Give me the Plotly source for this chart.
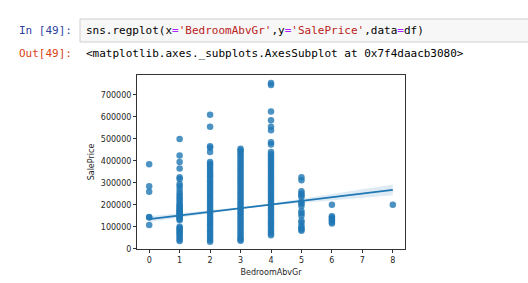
import plotly.graph_objects as go

# ---- data (SalePrice in thousands) ----
bed0 = [385, 285, 260, 145, 142, 108]
bed1 = [500, 425, 395, 365, 325, 318, 295, 285, 270, 255, 245, 235, 225, 215, 205, 198, 192,
        186, 180, 175, 170, 165, 160, 155, 150, 145, 140, 135, 130, 100, 95, 88, 82, 75,
        68, 60, 52, 42, 35]
bed2 = [610, 555, 467, 460, 440, 395, 387, 378, 368, 358, 348, 338,
        330, 320, 310, 300, 290, 280, 270, 260, 250, 240, 230, 220, 210, 200, 190, 180,
        170, 160, 150, 140, 130, 120, 110, 100, 90, 80, 70, 60, 50, 40, 32]
bed3 = [455, 447, 440, 430, 420, 410, 400, 390, 380, 370, 360, 350, 340, 330, 320, 310,
        300, 290, 280, 270, 260, 250, 240, 230, 220, 210, 200, 190, 180, 170, 160, 150,
        140, 130, 120, 110, 100, 90, 80, 70, 60, 50, 42, 36]
bed4 = [755, 745, 625, 585, 555, 540, 485, 475, 440, 430, 420, 410,
        400, 390, 380, 370, 360, 350, 340, 330, 320, 310, 300, 290, 280, 270, 260, 250,
        240, 230, 220, 210, 200, 190, 180, 170, 160, 150, 140, 130, 120, 110, 100, 90,
        80, 70, 62]
bed5 = [326, 312, 262, 252, 244, 236, 213, 205, 195, 172, 162, 150, 127, 118, 104, 95, 88, 82]
bed6 = [200, 148, 142, 136, 130, 122, 115]
bed8 = [200]

groups = {0: bed0, 1: bed1, 2: bed2, 3: bed3, 4: bed4, 5: bed5, 6: bed6, 8: bed8}

# regression line and confidence band
reg_x = [0, 8]
reg_y = [135000, 268000]
ci_x = [0, 1, 2, 3, 4, 5, 6, 7, 8]
ci_mid = [135000, 151600, 168250, 184900, 201500, 218100, 234750, 251400, 268000]
ci_half = [13000, 9000, 6000, 4000, 5000, 9000, 14000, 19000, 24000]

x_ticks = [0, 1, 2, 3, 4, 5, 6, 7, 8]
y_ticks = [0, 100000, 200000, 300000, 400000, 500000, 600000, 700000]

xs, ys = [], []
for k, vals in groups.items():
    for v in vals:
        xs.append(k)
        ys.append(v * 1000)

blue = "#1f77b4"
fig = go.Figure()
fig.add_trace(go.Scatter(x=xs, y=ys, mode="markers",
                         marker=dict(size=6.5, color="rgba(31,119,180,0.8)", line=dict(width=0)),
                         hoverinfo="skip"))
lo = [m - h for m, h in zip(ci_mid, ci_half)]
hi = [m + h for m, h in zip(ci_mid, ci_half)]
fig.add_trace(go.Scatter(x=ci_x + ci_x[::-1], y=hi + lo[::-1], fill="toself",
                         fillcolor="rgba(31,119,180,0.15)", line=dict(width=0),
                         mode="lines", hoverinfo="skip"))
fig.add_trace(go.Scatter(x=reg_x, y=reg_y, mode="lines", line=dict(color=blue, width=1.8),
                         hoverinfo="skip"))

L, R, T, B = 137, 405, 75, 249
W, H = 528, 283
pw, ph = R - L, B - T

def px(xp):
    return (xp - L) / pw

def py(yp):
    return (B - yp) / ph

mono = "DejaVu Sans Mono"
S = '<span style="color:#BA2121">'
E = '<span style="color:#AA22FF">=</span>'
code = ("sns.regplot(x" + E + S + "'BedroomAbvGr'</span>,y" + E + S + "'SalePrice'</span>,data"
        + E + "df)")

fig.add_shape(type="rect", xref="paper", yref="paper", x0=px(80), x1=px(540), y0=py(42), y1=py(19),
              fillcolor="#f7f7f7", line=dict(color="#cfcfcf", width=1), layer="below")

fig.add_annotation(xref="paper", yref="paper", x=px(74), y=py(30.5), text="In [49]:",
                   showarrow=False, xanchor="right", yanchor="middle",
                   font=dict(family=mono, size=11, color="#303F9F"))
fig.add_annotation(xref="paper", yref="paper", x=px(84), y=py(30.5), text=code,
                   showarrow=False, xanchor="left", yanchor="middle",
                   font=dict(family=mono, size=11, color="#000000"))
fig.add_annotation(xref="paper", yref="paper", x=px(74), y=py(53), text="Out[49]:",
                   showarrow=False, xanchor="right", yanchor="middle",
                   font=dict(family=mono, size=11, color="#D84315"))
fig.add_annotation(xref="paper", yref="paper", x=px(84), y=py(53),
                   text="&lt;matplotlib.axes._subplots.AxesSubplot at 0x7f4daacb3080&gt;",
                   showarrow=False, xanchor="left", yanchor="middle",
                   font=dict(family=mono, size=11, color="#000000"))

axis_common = dict(showline=True, linecolor="#333333", linewidth=1, mirror=True,
                   ticks="outside", ticklen=3, tickcolor="#333333", showgrid=False,
                   zeroline=False, automargin=False,
                   tickfont=dict(family="DejaVu Sans", size=8, color="#262626"))
fig.update_xaxes(range=[-0.4, 8.4], tickvals=x_ticks, ticktext=[str(t) for t in x_ticks],
                 title=dict(text="BedroomAbvGr", font=dict(family="DejaVu Sans", size=8, color="#262626"),
                            standoff=5),
                 **axis_common)
fig.update_yaxes(range=[-1105, 791005], tickvals=y_ticks, ticktext=[str(t) for t in y_ticks],
                 title=dict(text="SalePrice", font=dict(family="DejaVu Sans", size=8, color="#262626"),
                            standoff=5),
                 **axis_common)
fig.update_layout(width=W, height=H, margin=dict(l=L, r=W - R, t=T, b=H - B),
                  paper_bgcolor="white", plot_bgcolor="white", showlegend=False)
fig.write_html("out.html")
